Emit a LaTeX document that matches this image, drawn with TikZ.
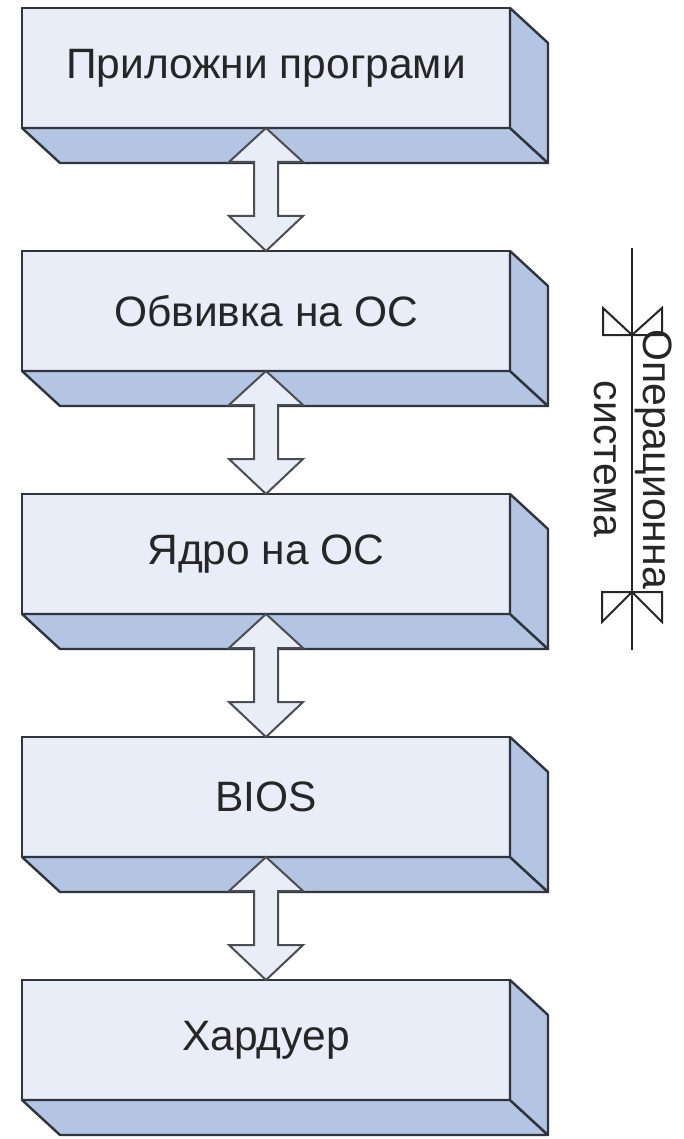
\documentclass[tikz,border=0pt]{standalone}
\usepackage{fontspec}
\setmainfont{Liberation Sans}
\definecolor{BoxFront}{HTML}{E9EDF7}
\definecolor{BoxSide}{HTML}{B3C5E3}
\definecolor{EdgeGray}{HTML}{30353D}
\definecolor{LinkGray}{HTML}{4A4D52}
\definecolor{InkGray}{HTML}{262626}
\usetikzlibrary{calc}
\usetikzlibrary{positioning}

\begin{document}
\begin{tikzpicture}[x=1pt,y=-1pt,
    layer/.style={draw=EdgeGray,line width=2.4pt,fill=BoxFront,minimum width=488pt,
      minimum height=120pt,inner sep=0pt,outer sep=0pt,text=InkGray,
      font=\fontsize{42.5}{49}\selectfont},
    side/.style={draw=EdgeGray,line width=2.4pt,fill=BoxSide,line join=round},
    link/.style={draw=LinkGray,line width=2pt,fill=BoxFront},
    node distance=123pt]
  \useasboundingbox[fill=white] (0,0) rectangle (683,1139);

  \def\dx{38}
  \def\dy{35}

  % Layers
  \node[layer] (apps) at (266,68) {Приложни програми};
  \node[layer,below=of apps] (shell) {Обвивка на ОС};
  \node[layer,below=of shell] (kernel) {Ядро на ОС};
  \node[layer,below=of kernel] (bios) {BIOS};
  \node[layer,below=of bios] (hw) {Хардуер};

  % Depth faces
  \foreach \n in {apps,shell,kernel,bios,hw} {
    \filldraw[side] (\n.south west) -- ++(\dx,\dy) -- ($(\n.south east)+(\dx,\dy)$)
      -- (\n.south east) -- cycle;
    \filldraw[side] (\n.north east) -- ++(\dx,\dy) -- ($(\n.south east)+(\dx,\dy)$)
      -- (\n.south east) -- cycle;
  }

  % Two-way arrows
  \foreach \a/\b in {apps/shell,shell/kernel,kernel/bios,bios/hw} {
    \filldraw[link] (\a.south) -- ++(37,34) -- ++(-25,0) -- ($(\b.north)+(12,-35)$)
      -- ++(25,0) -- (\b.north) -- ++(-37,-35) -- ++(25,0)
      -- ($(\a.south)+(-12,34)$) -- ++(-25,0) -- cycle;
  }

  % Operating system span
  \coordinate (ostop) at (632,248);
  \coordinate (osbot) at (632,650);
  \coordinate (osA) at (632,335);
  \coordinate (osB) at (632,592);
  \draw[line width=2pt,black!85] (ostop) -- (osbot);
  \draw[line width=2pt,black!85] (osA) -- ++(-29,-27) -- ++(0,27) -- ++(59,0) -- ++(0,-27) -- cycle;
  \draw[line width=2pt,black!85] (osB) -- ++(-30,30) -- ++(0,-30) -- ++(60,0) -- ++(0,30) -- cycle;
  \node[rotate=-90,align=center,inner sep=0pt,text=InkGray,font=\fontsize{41}{49}\selectfont]
    (oslabel) at (633,459) {Операционна\\система};
\end{tikzpicture}
\end{document}
